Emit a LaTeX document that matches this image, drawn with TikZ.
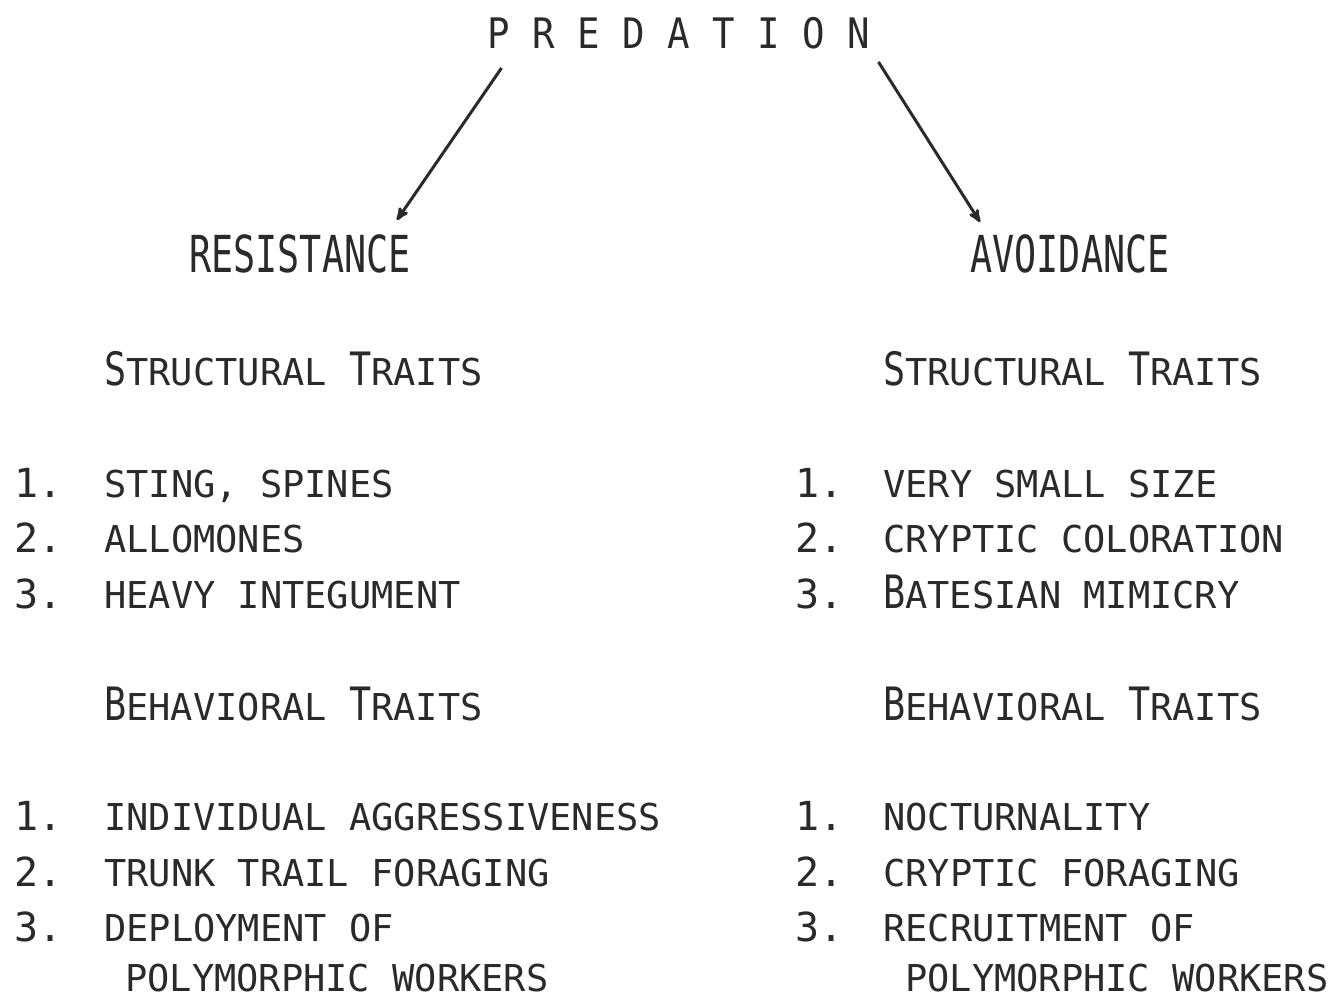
\documentclass[tikz,border=0pt]{standalone}
\usepackage{fontspec}
\setmonofont{DejaVu Sans Mono}
\usepackage{graphicx}
\usetikzlibrary{arrows,positioning}
\definecolor{ink}{HTML}{2A2A2A}
\newcommand{\capl}[1]{\scalebox{0.8}[1]{\fontsize{46}{46}\selectfont #1}}
\newcommand{\headfont}{\fontsize{51}{51}\selectfont}

\begin{document}
\begin{tikzpicture}[x=1pt,y=-1pt,>=stealth',font=\ttfamily\fontsize{37}{40}\selectfont,color=ink]
	\tikzstyle{head} = [inner sep=0pt, anchor=base]
	\tikzstyle{item} = [inner sep=0pt, anchor=base west]
	\tikzstyle{num} = [inner sep=0pt, anchor=base west, font=\ttfamily\fontsize{40}{40}\selectfont]
	\tikzstyle{link} = [->, line width=3pt, color=ink]
	
	\useasboundingbox (0,0) rectangle (1343,999);
	
	\node[head] (pred) at (679,48) {\scalebox{0.89}[1]{\fontsize{42}{42}\selectfont P R E D A T I O N}};
	
	\node[head] (res) at (300,272) {\scalebox{0.72}[1]{\headfont RESISTANCE}};
	\node[head] (avo) at (1070,272) {\scalebox{0.72}[1]{\headfont AVOIDANCE}};
	
	\draw[link] ([shift={(14,20)}]pred.base west) -- ([shift={(97,-52)}]res.base);
	\draw[link] ([shift={(8,14)}]pred.base east) -- ([shift={(-90,-50)}]avo.base);
	
	% resistance
	\node[item] (rstruct) at (104,385) {\capl{S}TRUCTURAL \capl{T}RAITS};
	\node[num] (rs1n) at (14,497) {1.};
	\node[item] (rs1) at (104,497) {STING, SPINES};
	\node[num] (rs2n) at (14,552) {2.};
	\node[item] (rs2) at (104,552) {ALLOMONES};
	\node[num] (rs3n) at (14,608) {3.};
	\node[item] (rs3) at (104,608) {HEAVY INTEGUMENT};
	
	\node[item] (rbehav) at (104,720) {\capl{B}EHAVIORAL \capl{T}RAITS};
	\node[num] (rb1n) at (14,830) {1.};
	\node[item] (rb1) at (104,830) {INDIVIDUAL AGGRESSIVENESS};
	\node[num] (rb2n) at (14,886) {2.};
	\node[item] (rb2) at (104,886) {TRUNK TRAIL FORAGING};
	\node[num] (rb3n) at (14,941) {3.};
	\node[item] (rb3) at (104,941) {DEPLOYMENT OF};
	\node[item] (rb3b) at (125,991) {POLYMORPHIC WORKERS};
	
	% avoidance
	\node[item] (astruct) at (883,385) {\capl{S}TRUCTURAL \capl{T}RAITS};
	\node[num] (as1n) at (795,497) {1.};
	\node[item] (as1) at (883,497) {VERY SMALL SIZE};
	\node[num] (as2n) at (795,552) {2.};
	\node[item] (as2) at (883,552) {CRYPTIC COLORATION};
	\node[num] (as3n) at (795,608) {3.};
	\node[item] (as3) at (883,608) {\capl{B}ATESIAN MIMICRY};
	
	\node[item] (abehav) at (883,720) {\capl{B}EHAVIORAL \capl{T}RAITS};
	\node[num] (ab1n) at (795,830) {1.};
	\node[item] (ab1) at (883,830) {NOCTURNALITY};
	\node[num] (ab2n) at (795,886) {2.};
	\node[item] (ab2) at (883,886) {CRYPTIC FORAGING};
	\node[num] (ab3n) at (795,941) {3.};
	\node[item] (ab3) at (883,941) {RECRUITMENT OF};
	\node[item] (ab3b) at (905,991) {POLYMORPHIC WORKERS};
	
\end{tikzpicture}
\end{document}
